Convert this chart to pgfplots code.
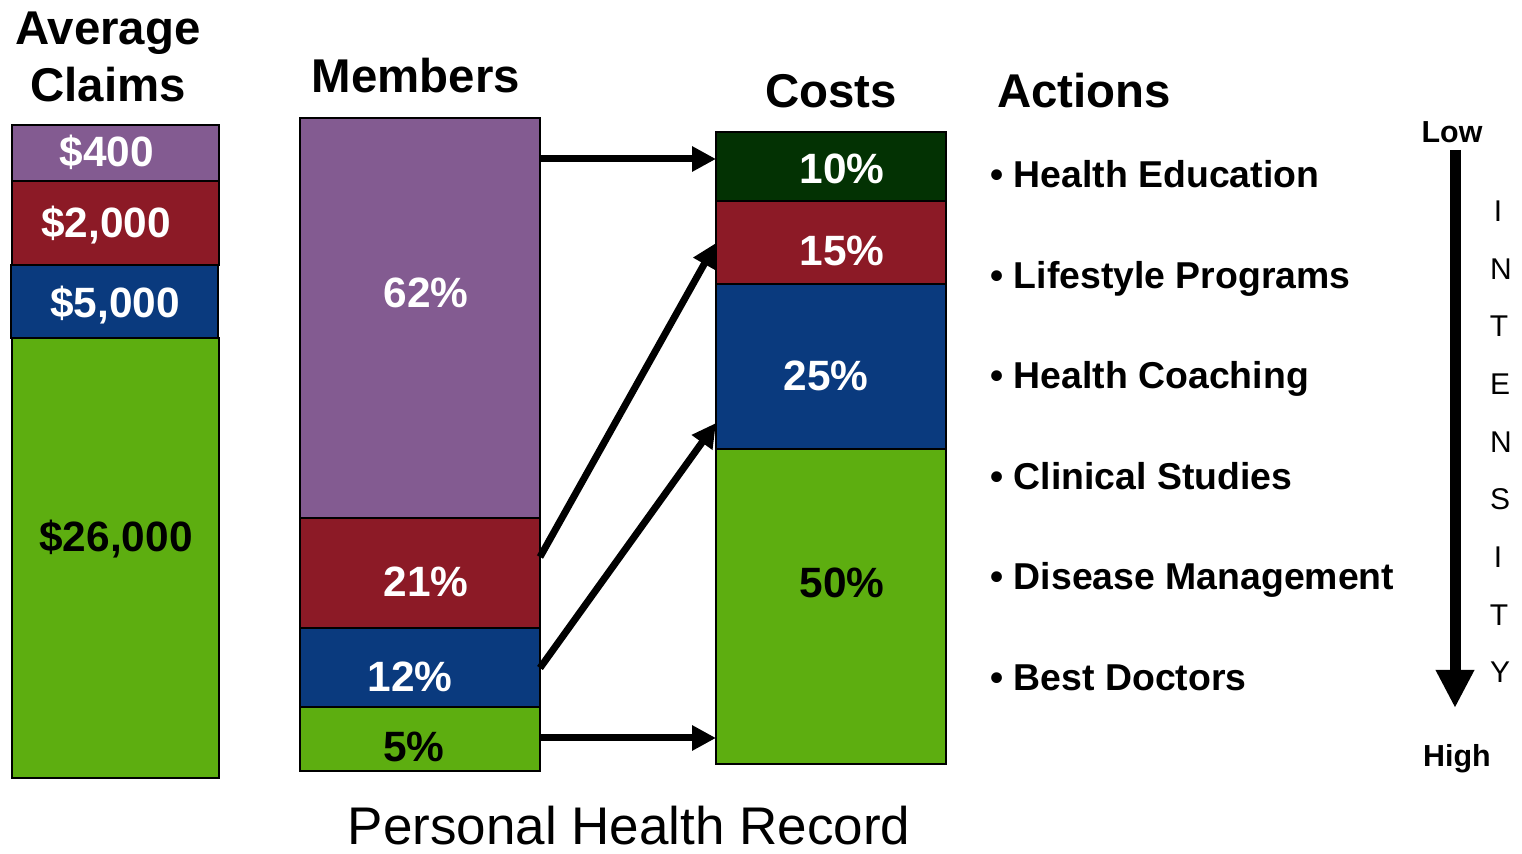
\documentclass[border=0pt]{standalone}
\usepackage{pgfplots}
\pgfplotsset{compat=1.18}
\usetikzlibrary{arrows.meta}
\usepackage{fontspec}
\setmainfont{Liberation Sans}
\definecolor{cpurple}{HTML}{835B91}
\definecolor{cred}{HTML}{8C1A26}
\definecolor{cblue}{HTML}{0A3A7E}
\definecolor{cgreen}{HTML}{5DAE10}
\definecolor{cdark}{HTML}{033203}
\newcommand{\fs}[1]{\fontsize{#1}{#1}\selectfont}
% segment: x1 x2 ytop ybottom colour
\newcommand{\seg}[5]{\addplot[fill=#5, draw=black, line width=1pt, mark=none] coordinates {(#1,#3) (#2,#3) (#2,#4) (#1,#4)} -- cycle;}
\newcommand{\lab}[4]{\node[anchor=base, inner sep=0, text=#4, font=\bfseries\fs{21.2pt}] at (axis cs:#1,#2) {#3};}
\begin{document}
\begin{tikzpicture}
\begin{axis}[scale only axis, width=761pt, height=427pt,
  xmin=0, xmax=1522, ymin=0, ymax=854, y dir=reverse,
  hide axis, clip=false]
% Average claims column
\seg{12}{219}{125}{181}{cpurple}
\seg{12}{219}{181}{265}{cred}
\seg{12}{219}{338}{778}{cgreen}
\seg{11}{218}{265}{338}{cblue}
% Members column
\seg{300}{540}{118}{518}{cpurple}
\seg{300}{540}{518}{628}{cred}
\seg{300}{540}{628}{707}{cblue}
\seg{300}{540}{707}{771}{cgreen}
% Costs column
\seg{716}{946}{132}{201}{cdark}
\seg{716}{946}{201}{284}{cred}
\seg{716}{946}{284}{449}{cblue}
\seg{716}{946}{449}{764}{cgreen}
% arrows between columns
\addplot[black, line width=3.5pt, mark=none, -{Triangle[length=12pt,width=12pt]}] coordinates {(540,159) (716,159)};
\addplot[black, line width=3.5pt, mark=none, -{Triangle[length=12pt,width=12pt]}] coordinates {(540,557) (716,243)};
\addplot[black, line width=3.5pt, mark=none, -{Triangle[length=12pt,width=12pt]}] coordinates {(540,668) (716,423)};
\addplot[black, line width=3.5pt, mark=none, -{Triangle[length=12pt,width=12pt]}] coordinates {(540,738) (716,738)};
% intensity arrow
\addplot[black, line width=5.5pt, mark=none, -{Triangle[length=19pt,width=18pt]}] coordinates {(1455,150) (1455,708)};
% bar labels
\lab{107}{167}{\$400}{white}
\lab{106}{238}{\$2,000}{white}
\lab{115}{318}{\$5,000}{white}
\lab{116}{552}{\$26,000}{black}
\lab{426}{308}{62\%}{white}
\lab{426}{597}{21\%}{white}
\lab{410}{692}{12\%}{white}
\lab{414}{762}{5\%}{black}
\lab{842}{184}{10\%}{white}
\lab{842}{266}{15\%}{white}
\lab{826}{391}{25\%}{white}
\lab{842}{598}{50\%}{black}
% titles
\node[anchor=base, inner sep=0, font=\bfseries\fs{23.7pt}] at (axis cs:108,45) {Average};
\node[anchor=base, inner sep=0, font=\bfseries\fs{23.7pt}] at (axis cs:108,102) {Claims};
\node[anchor=base, inner sep=0, font=\bfseries\fs{23.7pt}] at (axis cs:416,93) {Members};
\node[anchor=base, inner sep=0, font=\bfseries\fs{23.7pt}] at (axis cs:831,108) {Costs};
\node[anchor=base west, inner sep=0, font=\bfseries\fs{23.7pt}] at (axis cs:997,108) {Actions};
% actions
\node[anchor=base west, inner sep=0, font=\bfseries\fs{18.7pt}] at (axis cs:990,188) {\textbullet\ Health Education};
\node[anchor=base west, inner sep=0, font=\bfseries\fs{18.7pt}] at (axis cs:990,289) {\textbullet\ Lifestyle Programs};
\node[anchor=base west, inner sep=0, font=\bfseries\fs{18.7pt}] at (axis cs:990,389) {\textbullet\ Health Coaching};
\node[anchor=base west, inner sep=0, font=\bfseries\fs{18.7pt}] at (axis cs:990,490) {\textbullet\ Clinical Studies};
\node[anchor=base west, inner sep=0, font=\bfseries\fs{18.7pt}] at (axis cs:990,590) {\textbullet\ Disease Management};
\node[anchor=base west, inner sep=0, font=\bfseries\fs{18.7pt}] at (axis cs:990,691) {\textbullet\ Best Doctors};
% intensity
\node[anchor=base, inner sep=0, font=\bfseries\fs{15.2pt}] at (axis cs:1452,143) {Low};
\node[anchor=base, inner sep=0, font=\bfseries\fs{15.2pt}] at (axis cs:1457,767) {High};
\node[anchor=base, inner sep=0, font=\fs{15pt}] at (axis cs:1498,222) {I};
\node[anchor=base, inner sep=0, font=\fs{15pt}] at (axis cs:1501,280) {N};
\node[anchor=base, inner sep=0, font=\fs{15pt}] at (axis cs:1499,337) {T};
\node[anchor=base, inner sep=0, font=\fs{15pt}] at (axis cs:1500,395) {E};
\node[anchor=base, inner sep=0, font=\fs{15pt}] at (axis cs:1501,453) {N};
\node[anchor=base, inner sep=0, font=\fs{15pt}] at (axis cs:1500,510) {S};
\node[anchor=base, inner sep=0, font=\fs{15pt}] at (axis cs:1498,568) {I};
\node[anchor=base, inner sep=0, font=\fs{15pt}] at (axis cs:1499,626) {T};
\node[anchor=base, inner sep=0, font=\fs{15pt}] at (axis cs:1500,683) {Y};
% bottom title
\node[anchor=base, inner sep=0, font=\fs{26.5pt}] at (axis cs:629,845) {Personal Health Record};
\end{axis}
\pgfresetboundingbox
\useasboundingbox (current axis.south west) rectangle (current axis.north east);
\end{tikzpicture}
\end{document}
